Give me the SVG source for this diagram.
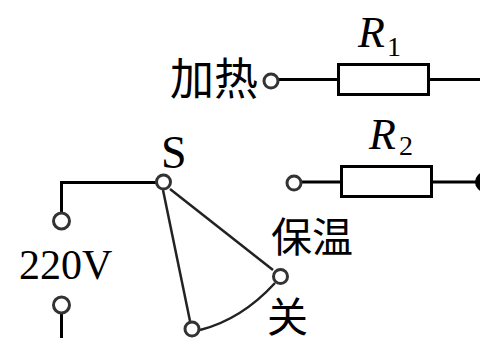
<svg xmlns="http://www.w3.org/2000/svg" width="480" height="338" viewBox="0 0 480 338">
<style>
.w{fill:none;stroke:#000;stroke-width:3}
.t{fill:none;stroke:#222;stroke-width:2.5}
.c{fill:#fff;stroke:#333;stroke-width:3}
.r{fill:#fff;stroke:#000;stroke-width:3}
.z{font-family:"Noto Sans CJK SC",sans-serif;font-size:41px;fill:#000}
.l{font-family:"Liberation Serif",serif;fill:#000}
</style>
<g id="connectors">
<path class="w" d="M61.500 212V182.500H157"/>
<path class="w" d="M61.500 314V338"/>
<path class="w" d="M279 79.500H338M429 79.500H480"/>
<path class="w" d="M302 182H341M432 182H478"/>
<path class="t" d="M163 190L190 321"/>
<path class="t" d="M170 189L273 270"/>
<path class="t" d="M200 330Q241.500 319.500 275 283"/>
</g>
<g id="R1"><rect class="r" x="338.500" y="64.500" width="90" height="30"/><text class="l" x="358" y="47" font-size="44" font-style="italic">R</text><text class="l" x="387" y="56" font-size="28">1</text></g>
<g id="R2"><rect class="r" x="341.500" y="166.500" width="90" height="30"/><text class="l" x="369" y="149" font-size="44" font-style="italic">R</text><text class="l" x="399" y="155" font-size="28">2</text></g>
<g id="heat"><circle class="c" cx="271" cy="81" r="7"/><text class="z" x="170" y="95" style="font-size:44px">加热</text></g>
<g id="S"><circle class="c" cx="163.500" cy="182" r="7"/><text class="l" x="161" y="168" font-size="46">S</text></g>
<g id="plus"><circle class="c" cx="61.500" cy="221" r="8"/></g>
<g id="v220"><text class="l" x="19" y="279" font-size="42">220V</text></g>
<g id="minus"><circle class="c" cx="61.500" cy="305" r="8"/></g>
<g id="off"><circle class="c" cx="192" cy="329" r="7"/><text class="z" x="267" y="332">关</text></g>
<g id="keep"><circle class="c" cx="280.500" cy="276.500" r="7"/><text class="z" x="271" y="252">保温</text></g>
<g id="hold"><circle class="c" cx="294" cy="183" r="7"/></g>
<g id="node"><circle cx="485" cy="182" r="10" fill="#000"/></g>
</svg>
